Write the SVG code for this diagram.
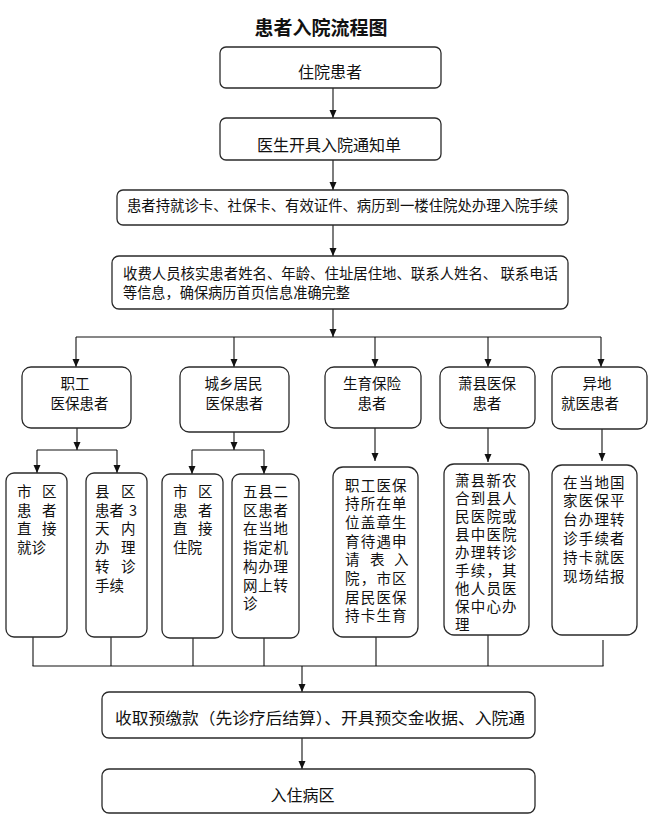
<svg xmlns="http://www.w3.org/2000/svg" width="653" height="832" viewBox="0 0 653 832">
<style>
.box{fill:#fff;stroke:#2a2a2a;stroke-width:1.3}
.ln{fill:none;stroke:#111;stroke-width:1.1}
.t{font-family:"Noto Sans CJK SC","Noto Sans",sans-serif;fill:#111;font-size:14.5px}
.tm{text-anchor:middle}
.big{font-size:16px}
.title{font-family:"Noto Sans CJK SC","Noto Sans",sans-serif;font-weight:bold;font-size:19px;fill:#111;text-anchor:middle}
</style>
<defs>
<marker id="ah" markerUnits="userSpaceOnUse" markerWidth="8" markerHeight="8" refX="8" refY="4" orient="auto">
<path d="M0,0.5 L8,4 L0,7.5 z" fill="#111"/>
</marker>
</defs>
<rect width="653" height="832" fill="#fff"/>
<text class="title" x="321" y="35">患者入院流程图</text>

<g id="connectors">
<line class="ln" x1="333" y1="88" x2="333" y2="118" marker-end="url(#ah)"/>
<line class="ln" x1="333" y1="160" x2="333" y2="190" marker-end="url(#ah)"/>
<line class="ln" x1="333" y1="225" x2="333" y2="256" marker-end="url(#ah)"/>
<line class="ln" x1="333" y1="309" x2="333" y2="337" marker-end="url(#ah)"/>
<line class="ln" x1="76" y1="337" x2="601" y2="337"/>
<line class="ln" x1="76" y1="337" x2="76" y2="367" marker-end="url(#ah)"/>
<line class="ln" x1="234" y1="337" x2="234" y2="367" marker-end="url(#ah)"/>
<line class="ln" x1="375" y1="337" x2="375" y2="367" marker-end="url(#ah)"/>
<line class="ln" x1="488" y1="337" x2="488" y2="367" marker-end="url(#ah)"/>
<line class="ln" x1="601" y1="337" x2="601" y2="367" marker-end="url(#ah)"/>
<line class="ln" x1="77" y1="428" x2="77" y2="450" marker-end="url(#ah)"/>
<line class="ln" x1="37" y1="450" x2="117" y2="450"/>
<line class="ln" x1="37" y1="450" x2="37" y2="473" marker-end="url(#ah)"/>
<line class="ln" x1="117" y1="450" x2="117" y2="473" marker-end="url(#ah)"/>
<line class="ln" x1="234" y1="432" x2="234" y2="450" marker-end="url(#ah)"/>
<line class="ln" x1="192" y1="450" x2="264" y2="450"/>
<line class="ln" x1="192" y1="450" x2="192" y2="474" marker-end="url(#ah)"/>
<line class="ln" x1="264" y1="450" x2="264" y2="474" marker-end="url(#ah)"/>
<line class="ln" x1="375" y1="428" x2="375" y2="461" marker-end="url(#ah)"/>
<line class="ln" x1="488" y1="428" x2="488" y2="462" marker-end="url(#ah)"/>
<line class="ln" x1="602" y1="429" x2="602" y2="461" marker-end="url(#ah)"/>
<line class="ln" x1="33" y1="637" x2="33" y2="666"/>
<line class="ln" x1="111" y1="637" x2="111" y2="666"/>
<line class="ln" x1="193" y1="638" x2="193" y2="666"/>
<line class="ln" x1="264" y1="638" x2="264" y2="666"/>
<line class="ln" x1="376" y1="637" x2="376" y2="666"/>
<line class="ln" x1="488" y1="635" x2="488" y2="666"/>
<line class="ln" x1="603" y1="640" x2="603" y2="666"/>
<line class="ln" x1="32.5" y1="666" x2="603.5" y2="666"/>
<line class="ln" x1="302" y1="666" x2="302" y2="692" marker-end="url(#ah)"/>
<line class="ln" x1="302" y1="738" x2="302" y2="769" marker-end="url(#ah)"/>
</g>

<g id="n1">
<rect class="box" x="220" y="47" width="221" height="41" rx="6"/>
<text class="t tm big" x="330" y="78">住院患者</text>
</g>
<g id="n2">
<rect class="box" x="220" y="118" width="221" height="42" rx="6"/>
<text class="t tm big" x="329" y="151">医生开具入院通知单</text>
</g>
<g id="n3">
<rect class="box" x="117" y="190" width="451" height="35" rx="6"/>
<text class="t" x="127" y="211" font-size="14" textLength="431" lengthAdjust="spacingAndGlyphs">患者持就诊卡、社保卡、有效证件、病历到一楼住院处办理入院手续</text>
</g>
<g id="n4">
<rect class="box" x="112" y="256" width="456" height="53" rx="7"/>
<text class="t" x="123" y="278.5" textLength="435" lengthAdjust="spacingAndGlyphs">收费人员核实患者姓名、年龄、住址居住地、联系人姓名、 联系电话</text>
<text class="t" x="123" y="297.5" textLength="227" lengthAdjust="spacingAndGlyphs">等信息，确保病历首页信息准确完整</text>
</g>

<g id="c1">
<rect class="box" x="22" y="367" width="109" height="61" rx="9"/>
<text class="t tm" x="75" y="389">职工</text>
<text class="t tm" x="79.5" y="408.5">医保患者</text>
</g>
<g id="c2">
<rect class="box" x="180" y="367" width="109" height="65" rx="9"/>
<text class="t tm" x="233.5" y="389">城乡居民</text>
<text class="t tm" x="234.5" y="408.5">医保患者</text>
</g>
<g id="c3">
<rect class="box" x="325" y="367" width="96" height="61" rx="9"/>
<text class="t tm" x="372" y="389">生育保险</text>
<text class="t tm" x="372" y="408.5">患者</text>
</g>
<g id="c4">
<rect class="box" x="440" y="367" width="95" height="61" rx="9"/>
<text class="t tm" x="487" y="389">萧县医保</text>
<text class="t tm" x="487" y="408.5">患者</text>
</g>
<g id="c5">
<rect class="box" x="552" y="367" width="95" height="62" rx="9"/>
<text class="t tm" x="597" y="389">异地</text>
<text class="t tm" x="590" y="408.5">就医患者</text>
</g>

<g id="s1">
<rect class="box" x="6" y="473" width="61" height="164" rx="8"/>
<text class="t" x="17 42" y="497">市区</text>
<text class="t" x="17 42" y="515.7">患者</text>
<text class="t" x="17 42" y="534.4">直接</text>
<text class="t" x="17 31.5" y="553.1">就诊</text>
</g>
<g id="s2">
<rect class="box" x="86" y="473" width="61" height="164" rx="8"/>
<text class="t" x="95 121" y="497">县区</text>
<text class="t" x="95 109.5 129" y="515.7">患者3</text>
<text class="t" x="95 121" y="534.4">天内</text>
<text class="t" x="95 121" y="553.1">办理</text>
<text class="t" x="95 121" y="571.8">转诊</text>
<text class="t" x="95 109.5" y="590.5">手续</text>
</g>
<g id="s3">
<rect class="box" x="162" y="474" width="61" height="164" rx="8"/>
<text class="t" x="173 198" y="497">市区</text>
<text class="t" x="173 198" y="515.7">患者</text>
<text class="t" x="173 198" y="534.4">直接</text>
<text class="t" x="173 187.5" y="553.1">住院</text>
</g>
<g id="s4">
<rect class="box" x="232" y="474" width="67" height="164" rx="8"/>
<text class="t" x="243 258.3 273.6" y="497">五县二</text>
<text class="t" x="243 258.3 273.6" y="515.7">区患者</text>
<text class="t" x="243 258.3 273.6" y="534.4">在当地</text>
<text class="t" x="243 258.3 273.6" y="553.1">指定机</text>
<text class="t" x="243 258.3 273.6" y="571.8">构办理</text>
<text class="t" x="243 258.3 273.6" y="590.5">网上转</text>
<text class="t" x="243" y="609.2">诊</text>
</g>
<g id="s5">
<rect class="box" x="333" y="467" width="85" height="170" rx="10"/>
<text class="t" x="345 360.7 376.4 392.1" y="490.5">职工医保</text>
<text class="t" x="345 360.7 376.4 392.1" y="509.2">持所在单</text>
<text class="t" x="345 360.7 376.4 392.1" y="527.9">位盖章生</text>
<text class="t" x="345 360.7 376.4 392.1" y="546.6">育待遇申</text>
<text class="t" x="345 370 394" y="565.3">请表入</text>
<text class="t" x="345 360.7 376.4 392.1" y="584">院，市区</text>
<text class="t" x="345 360.7 376.4 392.1" y="602.7">居民医保</text>
<text class="t" x="345 360.7 376.4 392.1" y="621.4">持卡生育</text>
</g>
<g id="s6">
<rect class="box" x="444" y="464" width="85" height="171" rx="10"/>
<text class="t" x="455 470.7 486.4 502.1" y="485.5">萧县新农</text>
<text class="t" x="455 470.7 486.4 502.1" y="503.6">合到县人</text>
<text class="t" x="455 470.7 486.4 502.1" y="521.7">民医院或</text>
<text class="t" x="455 470.7 486.4 502.1" y="539.8">县中医院</text>
<text class="t" x="455 470.7 486.4 502.1" y="557.9">办理转诊</text>
<text class="t" x="455 470.7 486.4 502.1" y="576">手续，其</text>
<text class="t" x="455 470.7 486.4 502.1" y="594.1">他人员医</text>
<text class="t" x="455 470.7 486.4 502.1" y="612.2">保中心办</text>
<text class="t" x="455" y="630.3">理</text>
</g>
<g id="s7">
<rect class="box" x="552" y="465" width="85" height="170" rx="10"/>
<text class="t" x="563 578.7 594.4 610.1" y="487.5">在当地国</text>
<text class="t" x="563 578.7 594.4 610.1" y="506.3">家医保平</text>
<text class="t" x="563 578.7 594.4 610.1" y="525.1">台办理转</text>
<text class="t" x="563 578.7 594.4 610.1" y="543.9">诊手续者</text>
<text class="t" x="563 578.7 594.4 610.1" y="562.7">持卡就医</text>
<text class="t" x="563 578.7 594.4 610.1" y="581.5">现场结报</text>
</g>

<g id="n5">
<rect class="box" x="102" y="692" width="433" height="46" rx="7"/>
<text class="t big" x="115" y="724" textLength="410" lengthAdjust="spacingAndGlyphs">收取预缴款（先诊疗后结算）、开具预交金收据、入院通</text>
</g>
<g id="n6">
<rect class="box" x="102" y="769" width="433" height="44" rx="7"/>
<text class="t tm big" x="302.5" y="801">入住病区</text>
</g>
</svg>
